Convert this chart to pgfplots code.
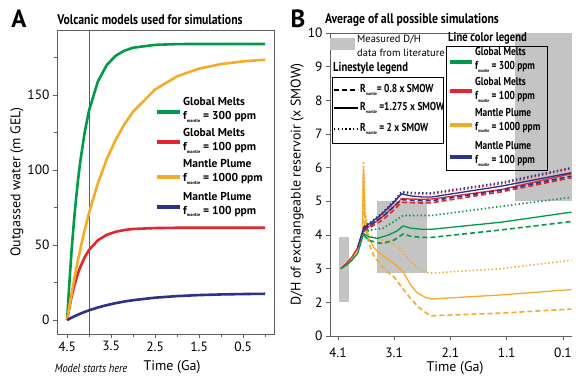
\documentclass[border=0pt]{standalone}
\usepackage{fontspec}
\setmainfont{PT Sans}
\usepackage{graphicx}
\usepackage{pgfplots}
\pgfplotsset{compat=1.18}
\definecolor{cgreen}{RGB}{0,155,72}
\definecolor{cred}{RGB}{228,38,48}
\definecolor{corange}{RGB}{246,170,40}
\definecolor{cblue}{RGB}{42,50,140}
\definecolor{boxgray}{RGB}{196,196,196}
\definecolor{axgray}{RGB}{95,95,95}
\newcommand{\fm}{f\raisebox{-0.45ex}{\fontsize{4.5}{5}\selectfont mantle}}
\newcommand{\Rm}{R\raisebox{-0.45ex}{\fontsize{4.5}{5}\selectfont mantle}}
\newcommand{\cond}[1]{\scalebox{0.82}[1]{#1}}
\tikzset{
  sol/.style={line width=1.3bp},
  dsh/.style={line width=1.6bp, dash pattern=on 5bp off 3bp},
  dot/.style={line width=1.6bp, dash pattern=on 1.4bp off 2.4bp},
}
\begin{document}
\begin{tikzpicture}
\useasboundingbox (0,0) rectangle (584bp,377bp);
\pgfplotsset{every axis/.append style={/pgf/number format/assume math mode=true}}
% ---------------- Panel A ----------------
\begin{axis}[at={(57bp,43bp)}, anchor=south west, scale only axis,
  width=217bp, height=304bp,
  x dir=reverse, xmin=-0.2, xmax=4.73, ymin=-9.3, ymax=193.3,
  xtick={4.5,3.5,2.5,1.5,0.5}, xticklabels={4.5,3.5,2.5,1.5,0.5},
  minor xtick={4,3,2,1,0},
  ytick={0,50,100,150}, minor ytick={25,75,125,175},
  tick align=outside, major tick length=4bp, minor tick length=3bp,
  xtick pos=bottom, ytick pos=left,
  tick style={axgray, line width=0.6bp},
  axis line style={axgray, line width=0.9bp},
  ticklabel style={font=\fontsize{13.5}{14}\selectfont},
  ylabel={Outgassed water (m GEL)},
  ylabel style={at={(axis description cs:-0.184,0.5)}, anchor=center, font=\fontsize{14}{14}\selectfont},
  clip=false]
\addplot[axgray, line width=0.7bp] coordinates {(4.0,-9.3) (4.0,193.3)};
\addplot[cgreen, line width=2.6bp] coordinates {(4.5,0) (4.45,24.1) (4.4,45.7) (4.35,64.0) (4.3,80.0) (4.25,93.9) (4.2,105.9) (4.1,125.3) (4.0,139.9) (3.8,159.1) (3.6,169.9) (3.4,176.1) (3.2,179.5) (3.0,181.5) (2.5,183.4) (2.0,183.9) (1.5,184) (1.0,184) (0.5,184) (0.0,184)};
\addplot[cred, line width=2.6bp] coordinates {(4.5,0) (4.45,8.1) (4.4,15.3) (4.35,21.4) (4.3,26.7) (4.25,31.4) (4.2,35.4) (4.1,41.9) (4.0,46.8) (3.8,53.2) (3.6,56.8) (3.4,58.8) (3.2,60.0) (3.0,60.7) (2.5,61.3) (2.0,61.5) (1.5,61.5) (1.0,61.5) (0.5,61.5) (0.0,61.5)};
\addplot[corange, line width=2.6bp] coordinates {(4.5,0) (4.4,17.5) (4.3,33.2) (4.2,47.4) (4.1,60.1) (4.0,71.6) (3.8,91.2) (3.6,107.1) (3.4,120.0) (3.2,130.4) (3.0,138.9) (2.5,153.7) (2.0,162.4) (1.5,167.6) (1.0,170.6) (0.5,172.4) (0.0,173.5)};
\addplot[cblue, line width=2.6bp] coordinates {(4.5,0) (4.4,1.55) (4.3,2.96) (4.2,4.25) (4.1,5.43) (4.0,6.50) (3.8,8.38) (3.6,9.95) (3.4,11.25) (3.2,12.34) (3.0,13.25) (2.5,14.91) (2.0,15.97) (1.5,16.64) (1.0,17.06) (0.5,17.33) (0.0,17.50)};
\end{axis}
% ---------------- Panel B ----------------
\begin{axis}[at={(330bp,41bp)}, anchor=south west, scale only axis,
  width=242bp, height=303bp,
  x dir=reverse, xmin=-0.06, xmax=4.24, ymin=1, ymax=10,
  axis x line*=bottom, axis y line*=left,
  xtick={4.1,3.1,2.1,1.1,0.1}, xticklabels={4.1,3.1,2.1,1.1,0.1},
  ytick={1,2,3,4,5,6,7,8,9,10}, yticklabels={0,2,3,4,5,6,7,8,9,10},
  tick align=outside, major tick length=4bp,
  tick style={axgray, line width=0.6bp},
  axis line style={axgray, line width=0.9bp},
  ticklabel style={font=\fontsize{13.5}{14}\selectfont},
  xticklabel style={yshift=-4bp},
  ylabel={D/H of exchangeable reservoir (x SMOW)},
  ylabel style={at={(axis description cs:-0.136,0.5)}, anchor=center, font=\fontsize{14}{14}\selectfont},
  clip=false]
\addplot[fill=boxgray, draw=none] coordinates {(4.08,2) (3.9,2) (3.9,3.95) (4.08,3.95)} -- cycle;
\addplot[fill=boxgray, draw=none] coordinates {(3.41,2.87) (2.52,2.87) (2.52,5.0) (3.41,5.0)} -- cycle;
\addplot[fill=boxgray, draw=none] coordinates {(0.95,5.0) (-0.06,5.0) (-0.06,10) (0.95,10)} -- cycle;
\draw[axgray, line width=0.9bp] (rel axis cs:0,1) -- (rel axis cs:0.6,1);
% orange
\addplot[corange, sol] coordinates {(4.05,3.0) (3.95,3.12) (3.85,3.3) (3.75,3.55) (3.66,4.1) (3.645,6.0) (3.62,4.6) (3.55,3.9) (3.45,3.6) (3.3,3.38) (3.1,3.15) (2.94,2.9) (2.8,2.5) (2.7,2.3) (2.55,2.15) (2.43,2.1) (1.2,2.22) (-0.05,2.38)};
\addplot[corange, dsh] coordinates {(3.66,4.1) (3.645,5.8) (3.62,4.3) (3.55,3.75) (3.45,3.35) (3.26,2.95) (3.1,2.75) (2.97,2.46) (2.8,2.1) (2.67,1.86) (2.5,1.65) (2.43,1.6) (1.2,1.68) (-0.05,1.8)};
\addplot[corange, dot] coordinates {(3.66,4.1) (3.645,6.2) (3.62,4.8) (3.56,4.0) (3.4,3.9) (3.2,3.8) (3.0,3.6) (2.85,3.3) (2.7,3.05) (2.55,2.9) (2.43,2.87) (1.2,3.0) (-0.05,3.25)};
% red
\addplot[cred, sol] coordinates {(4.05,3.0) (3.95,3.15) (3.85,3.35) (3.75,3.62) (3.64,4.15) (3.5,4.3) (3.3,4.55) (3.1,4.85) (2.97,5.08) (2.8,5.07) (2.6,5.06) (2.43,5.07) (1.2,5.35) (-0.05,5.82)};
\addplot[cred, dsh] coordinates {(3.64,4.12) (3.5,4.25) (3.3,4.45) (3.1,4.75) (2.97,4.97) (2.6,4.95) (2.43,4.96) (1.2,5.28) (-0.05,5.7)};
\addplot[cred, dot] coordinates {(3.64,4.2) (3.5,4.35) (3.3,4.62) (3.1,4.98) (2.97,5.24) (2.6,5.22) (2.43,5.22) (1.2,5.52) (-0.05,5.97)};
% blue
\addplot[cblue, sol] coordinates {(3.75,3.64) (3.64,4.22) (3.5,4.38) (3.3,4.65) (3.1,4.98) (2.97,5.22) (2.8,5.16) (2.6,5.13) (2.43,5.13) (1.2,5.45) (-0.05,5.85)};
\addplot[cblue, dsh] coordinates {(3.64,4.18) (3.5,4.32) (3.3,4.55) (3.1,4.85) (2.97,5.05) (2.6,5.02) (2.43,5.02) (1.2,5.33) (-0.05,5.75)};
\addplot[cblue, dot] coordinates {(3.64,4.25) (3.5,4.4) (3.3,4.68) (3.1,5.02) (2.97,5.28) (2.6,5.25) (2.43,5.25) (1.2,5.56) (-0.05,6.0)};
% green
\addplot[cgreen, sol] coordinates {(4.05,3.0) (3.95,3.1) (3.85,3.25) (3.75,3.45) (3.64,4.04) (3.55,3.95) (3.4,3.9) (3.2,4.0) (3.05,4.12) (2.94,4.27) (2.8,4.2) (2.6,4.17) (2.43,4.17) (1.2,4.38) (-0.05,4.68)};
\addplot[cgreen, dsh] coordinates {(3.64,4.0) (3.56,3.85) (3.4,3.77) (3.3,3.75) (3.1,3.85) (2.94,4.03) (2.8,3.96) (2.6,3.93) (2.43,3.93) (1.2,4.15) (-0.05,4.40)};
\addplot[cgreen, dot] coordinates {(3.64,4.1) (3.5,4.15) (3.3,4.2) (3.1,4.4) (2.94,4.58) (2.6,4.58) (2.43,4.58) (1.2,4.85) (-0.05,5.12)};
\end{axis}
% ---------------- Annotations ----------------
% Panel A
\node[font=\fontsize{25}{25}\selectfont\bfseries] at (19bp,358bp) {A};
\node[font=\fontsize{14}{14}\selectfont\bfseries] at (150bp,357bp) {\scalebox{0.84}[1]{Volcanic models used for simulations}};
\node[font=\fontsize{14}{14}\selectfont] at (172bp,10bp) {Time (Ga)};
\node[font=\fontsize{12}{12}\selectfont\itshape] at (91bp,9bp) {\scalebox{0.86}[1]{Model starts here}};
\begin{scope}[font=\fontsize{11.5}{14}\selectfont\bfseries]
\draw[cgreen, line width=3.5bp] (157bp,265bp) -- (180bp,265bp);
\node[anchor=west, align=left, inner sep=0] at (183bp,267bp) {Global Melts\\ \fm{} = 300 ppm};
\draw[cred, line width=3.5bp] (157bp,235bp) -- (180bp,235bp);
\node[anchor=west, align=left, inner sep=0] at (183bp,236bp) {Global Melts\\ \fm{} = 100 ppm};
\draw[corange, line width=3.5bp] (157bp,200bp) -- (180bp,200bp);
\node[anchor=west, align=left, inner sep=0] at (183bp,205bp) {Mantle Plume\\ \fm{} = 1000 ppm};
\draw[cblue, line width=3.5bp] (157bp,170bp) -- (180bp,170bp);
\node[anchor=west, align=left, inner sep=0] at (183bp,172.5bp) {Mantle Plume\\ \fm{} = 100 ppm};
\end{scope}
% Panel B
\node[font=\fontsize{25}{25}\selectfont\bfseries] at (298bp,358bp) {B};
\node[font=\fontsize{14}{14}\selectfont\bfseries] at (412bp,357bp) {\scalebox{0.84}[1]{Average of all possible simulations}};
\node[font=\fontsize{14}{14}\selectfont] at (455bp,9bp) {Time (Ga)};
% gray legend
\fill[boxgray] (330bp,327bp) rectangle (355bp,339bp);
\node[anchor=west, align=left, inner sep=0, font=\fontsize{10.5}{14}\selectfont] at (357bp,331bp) {Measured D/H\\ data from literature};
% linestyle legend
\node[anchor=west, inner sep=0, font=\fontsize{13}{13}\selectfont\bfseries] at (333bp,309bp) {\cond{Linestyle legend}};
\draw[black, line width=0.7bp] (332bp,234bp) rectangle (443bp,300bp);
\begin{scope}[font=\fontsize{11.5}{12}\selectfont\bfseries]
\draw[black, dsh] (334bp,287bp) -- (358bp,287bp);
\node[anchor=west, inner sep=0] at (360bp,287bp) {\cond{\Rm{}= 0.8 x SMOW}};
\draw[black, line width=1.6bp] (334bp,269bp) -- (358bp,269bp);
\node[anchor=west, inner sep=0] at (360bp,269bp) {\cond{\Rm{} =1.275 x SMOW}};
\draw[black, dot, line width=1.1bp] (334bp,248bp) -- (358bp,248bp);
\node[anchor=west, inner sep=0] at (360bp,248bp) {\cond{\Rm{} = 2 x SMOW}};
\end{scope}
% color legend
\node[anchor=west, inner sep=0, font=\fontsize{13}{13}\selectfont\bfseries] at (448bp,339bp) {\cond{Line color legend}};
\draw[black, line width=0.7bp] (446bp,207bp) rectangle (547bp,331bp);
\begin{scope}[font=\fontsize{11.5}{14}\selectfont\bfseries]
\draw[cgreen, line width=3.5bp] (450bp,315bp) -- (472bp,315bp);
\node[anchor=west, align=left, inner sep=0] at (475bp,317bp) {\cond{Global Melts}\\ \cond{\fm{} = 300 ppm}};
\draw[cred, line width=3.5bp] (450bp,286bp) -- (472bp,286bp);
\node[anchor=west, align=left, inner sep=0] at (475bp,287bp) {\cond{Global Melts}\\ \cond{\fm{} = 100 ppm}};
\draw[corange, line width=3.5bp] (450bp,252bp) -- (472bp,252bp);
\node[anchor=west, align=left, inner sep=0] at (475bp,256.5bp) {\cond{Mantle Plume}\\ \cond{\fm{} = 1000 ppm}};
\draw[cblue, line width=3.5bp] (450bp,220bp) -- (472bp,220bp);
\node[anchor=west, align=left, inner sep=0] at (475bp,223bp) {\cond{Mantle Plume}\\ \cond{\fm{} = 100 ppm}};
\end{scope}
\end{tikzpicture}
\end{document}
